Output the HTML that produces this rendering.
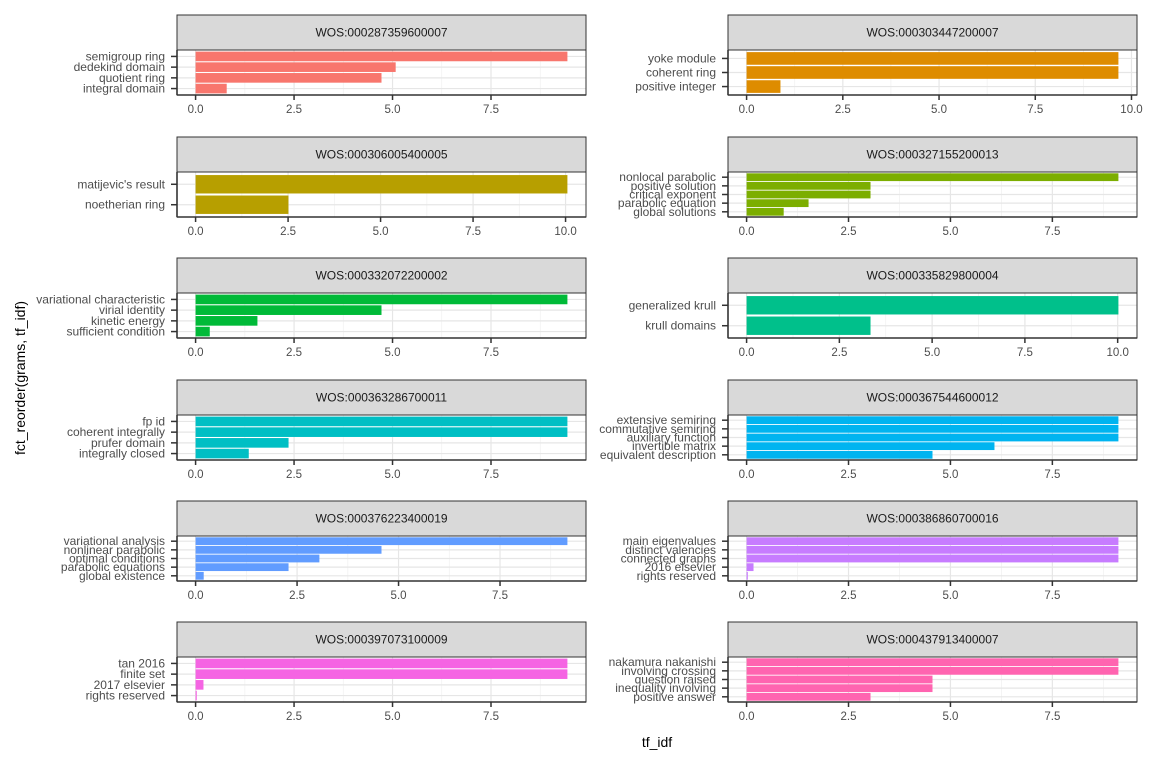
<!DOCTYPE html>
<html><head><meta charset="utf-8"><style>
body{margin:0;background:#fff;font-family:"Liberation Sans",sans-serif}
svg text{font-family:"Liberation Sans",sans-serif}
</style></head><body>
<svg id="c" width="1152" height="768" xmlns="http://www.w3.org/2000/svg">
<text x="657" y="747" font-size="14" text-anchor="middle" fill="#000">tf_idf</text>
<text transform="translate(25,378) rotate(-90)" font-size="14" text-anchor="middle" fill="#000">fct_reorder(grams, tf_idf)</text>
</svg>
<script>
const panelIds=["WOS:000287359600007","WOS:000303447200007","WOS:000306005400005","WOS:000327155200013","WOS:000332072200002","WOS:000335829800004","WOS:000363286700011","WOS:000367544600012","WOS:000376223400019","WOS:000386860700016","WOS:000397073100009","WOS:000437913400007"];
const panelColors=["#F8766D","#DE8C00","#B79F00","#7CAE00","#00BA38","#00C08B","#00BFC4","#00B4F0","#619CFF","#C77CFF","#F564E3","#FF64B0"];
// categories listed bottom-to-top
const cats1=["integral domain","quotient ring","dedekind domain","semigroup ring"];
const vals1=[0.79,4.72,5.08,9.44];
const cats2=["positive integer","coherent ring","yoke module"];
const vals2=[0.88,9.66,9.66];
const cats3=["noetherian ring","matijevic's result"];
const vals3=[2.51,10.05];
const cats4=["global solutions","parabolic equation","critical exponent","positive solution","nonlocal parabolic"];
const vals4=[0.91,1.52,3.04,3.04,9.12];
const cats5=["sufficient condition","kinetic energy","virial identity","variational characteristic"];
const vals5=[0.36,1.57,4.72,9.44];
const cats6=["krull domains","generalized krull"];
const vals6=[3.34,10.02];
const cats7=["integrally closed","prufer domain","coherent integrally","fp id"];
const vals7=[1.35,2.36,9.44,9.44];
const cats8=["equivalent description","invertible matrix","auxiliary function","commutative semiring","extensive semiring"];
const vals8=[4.56,6.08,9.12,9.12,9.12];
const cats9=["global existence","parabolic equations","optimal conditions","nonlinear parabolic","variational analysis"];
const vals9=[0.2,2.29,3.05,4.58,9.16];
const cats10=["rights reserved","2016 elsevier","connected graphs","distinct valencies","main eigenvalues"];
const vals10=[0.03,0.17,9.12,9.12,9.12];
const cats11=["rights reserved","2017 elsevier","finite set","tan 2016"];
const vals11=[0.03,0.2,9.44,9.44];
const cats12=["positive answer","inequality involving","question raised","involving crossing","nakamura nakanishi"];
const vals12=[3.04,4.56,4.56,9.12,9.12];
const allCats=[cats1,cats2,cats3,cats4,cats5,cats6,cats7,cats8,cats9,cats10,cats11,cats12];
const allVals=[vals1,vals2,vals3,vals4,vals5,vals6,vals7,vals8,vals9,vals10,vals11,vals12];
const xTicks=[0,2.5,5,7.5,10];
const xTickLabels=["0.0","2.5","5.0","7.5","10.0"];

const svg=document.getElementById('c');
const NS="http://www.w3.org/2000/svg";
function mk(tag,attrs,parent){const e=document.createElementNS(NS,tag);for(const k in attrs)e.setAttribute(k,attrs[k]);(parent||svg).appendChild(e);return e;}
const stripTops=[15,137,258,380,501,622];
const colX=[177,728];
const W=409,SH=35,PH=45;
for(let p=0;p<12;p++){
  const r=Math.floor(p/2),cI=p%2;
  const x0=colX[cI],sy=stripTops[r],py=sy+SH;
  const cats=allCats[p],vals=allVals[p];
  const M=Math.max(...vals);
  const xs=v=>x0+(v+0.05*M)/(1.1*M)*W;
  const n=cats.length;
  const ys=i=>py+(n+0.6-(i+1))/(n+0.2)*PH;
  const unit=PH/(n+0.2);
  const g=mk('g',{});
  
  
  const strip=mk('rect',{x:x0,y:sy,width:W,height:SH,fill:'#d9d9d9',stroke:'#333','stroke-width':1},g);
  
  
  const st=mk('text',{x:x0+W/2,y:sy+SH/2+4,'font-size':12,'text-anchor':'middle',fill:'#1a1a1a'},g);
  st.textContent=panelIds[p];
  
  
  mk('rect',{x:x0,y:py,width:W,height:PH,fill:'#fff'},g);
  const xmax=1.05*M;
  for(let t=1.25;t<xmax;t+=2.5) mk('line',{x1:xs(t),x2:xs(t),y1:py,y2:py+PH,stroke:'#f0f0f0','stroke-width':0.7},g);
  const ticks=xTicks.filter(t=>t<=xmax);
  ticks.forEach(t=>mk('line',{x1:xs(t),x2:xs(t),y1:py,y2:py+PH,stroke:'#e6e6e6','stroke-width':1.2},g));
  cats.forEach((c,i)=>mk('line',{x1:x0,x2:x0+W,y1:ys(i),y2:ys(i),stroke:'#e6e6e6','stroke-width':1.2},g));
  cats.forEach((c,i)=>{
    const b=mk('rect',{x:xs(0),y:ys(i)-0.45*unit,width:Math.max(0,xs(vals[i])-xs(0)),height:0.9*unit,fill:panelColors[p]},g);
    
    
    const tl=mk('text',{x:x0-12,y:ys(i)+4,'font-size':12,'text-anchor':'end',fill:'#4d4d4d'},g);
    tl.textContent=c;
    
    
    mk('line',{x1:x0-6,x2:x0,y1:ys(i),y2:ys(i),stroke:'#333','stroke-width':1.5},g);
  });
  ticks.forEach(t=>{
    const k=xTicks.indexOf(t);
    mk('line',{x1:xs(t),x2:xs(t),y1:py+PH,y2:py+PH+5,stroke:'#333','stroke-width':1.5},g);
    const tl=mk('text',{x:xs(t),y:py+PH+18,'font-size':11.5,'text-anchor':'middle',fill:'#4d4d4d'},g);
    tl.textContent=xTickLabels[k];
    
    
  });
  mk('rect',{x:x0,y:py,width:W,height:PH,fill:'none',stroke:'#333','stroke-width':1},g);
  mk('line',{x1:x0,x2:x0,y1:py,y2:py+PH,stroke:'#333','stroke-width':1.6},g);
  mk('line',{x1:x0,x2:x0+W,y1:py+PH,y2:py+PH,stroke:'#333','stroke-width':1.6},g);
}
</script>
</body></html>
